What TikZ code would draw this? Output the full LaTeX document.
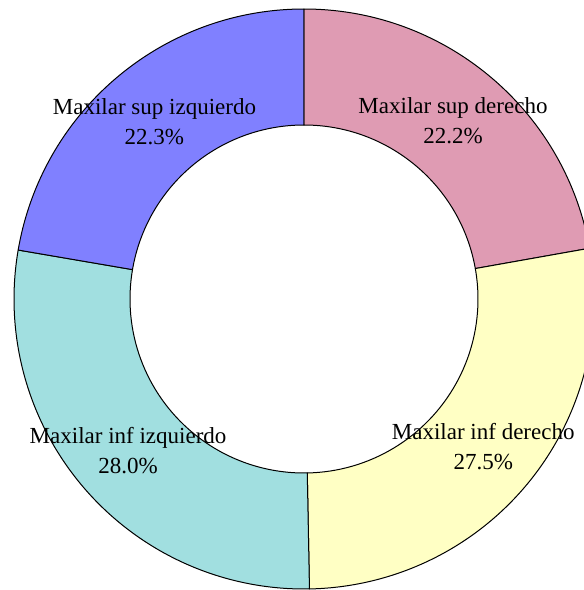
\documentclass[tikz,border=0pt]{standalone}
\usepackage{fontspec}
\setmainfont{Liberation Serif}
\usepackage{tikz}
\usetikzlibrary{positioning}
\definecolor{supderc}{RGB}{223,155,179}
\definecolor{infderc}{RGB}{255,255,196}
\definecolor{infizqc}{RGB}{161,223,224}
\definecolor{supizqc}{RGB}{128,128,255}
\tikzset{sector/.style={draw=black,line width=1pt,line join=round},
  slicelabel/.style={align=center,font=\fontsize{23}{30}\selectfont,inner sep=0pt}}

\begin{document}
\begin{tikzpicture}[x=1pt,y=1pt]
\useasboundingbox (-304pt,-291pt) rectangle (280pt,299pt);
\filldraw[sector,fill=supderc] (90:174pt) -- (90:290pt) arc (90:10.08:290pt) -- (10.08:174pt) arc (10.08:90:174pt) -- cycle;
\filldraw[sector,fill=infderc] (10.08:174pt) -- (10.08:290pt) arc (10.08:-88.92:290pt) -- (-88.92:174pt) arc (-88.92:10.08:174pt) -- cycle;
\filldraw[sector,fill=infizqc] (-88.92:174pt) -- (-88.92:290pt) arc (-88.92:-189.72:290pt) -- (-189.72:174pt) arc (-189.72:-88.92:174pt) -- cycle;
\filldraw[sector,fill=supizqc] (170.28:174pt) -- (170.28:290pt) arc (170.28:90:290pt) -- (90:174pt) arc (90:170.28:174pt) -- cycle;

\node[slicelabel] (supder) at (50.04:232pt) {Maxilar sup derecho\\22.2\%};
\node[slicelabel] (infder) at (-39.42:232pt) {Maxilar inf derecho\\27.5\%};
\node[slicelabel] (infizq) at (220.68:232pt) {Maxilar inf izquierdo\\28.0\%};
\node[slicelabel] (supizq) at (130.14:232pt) {Maxilar sup izquierdo\\22.3\%};
\end{tikzpicture}
\end{document}
